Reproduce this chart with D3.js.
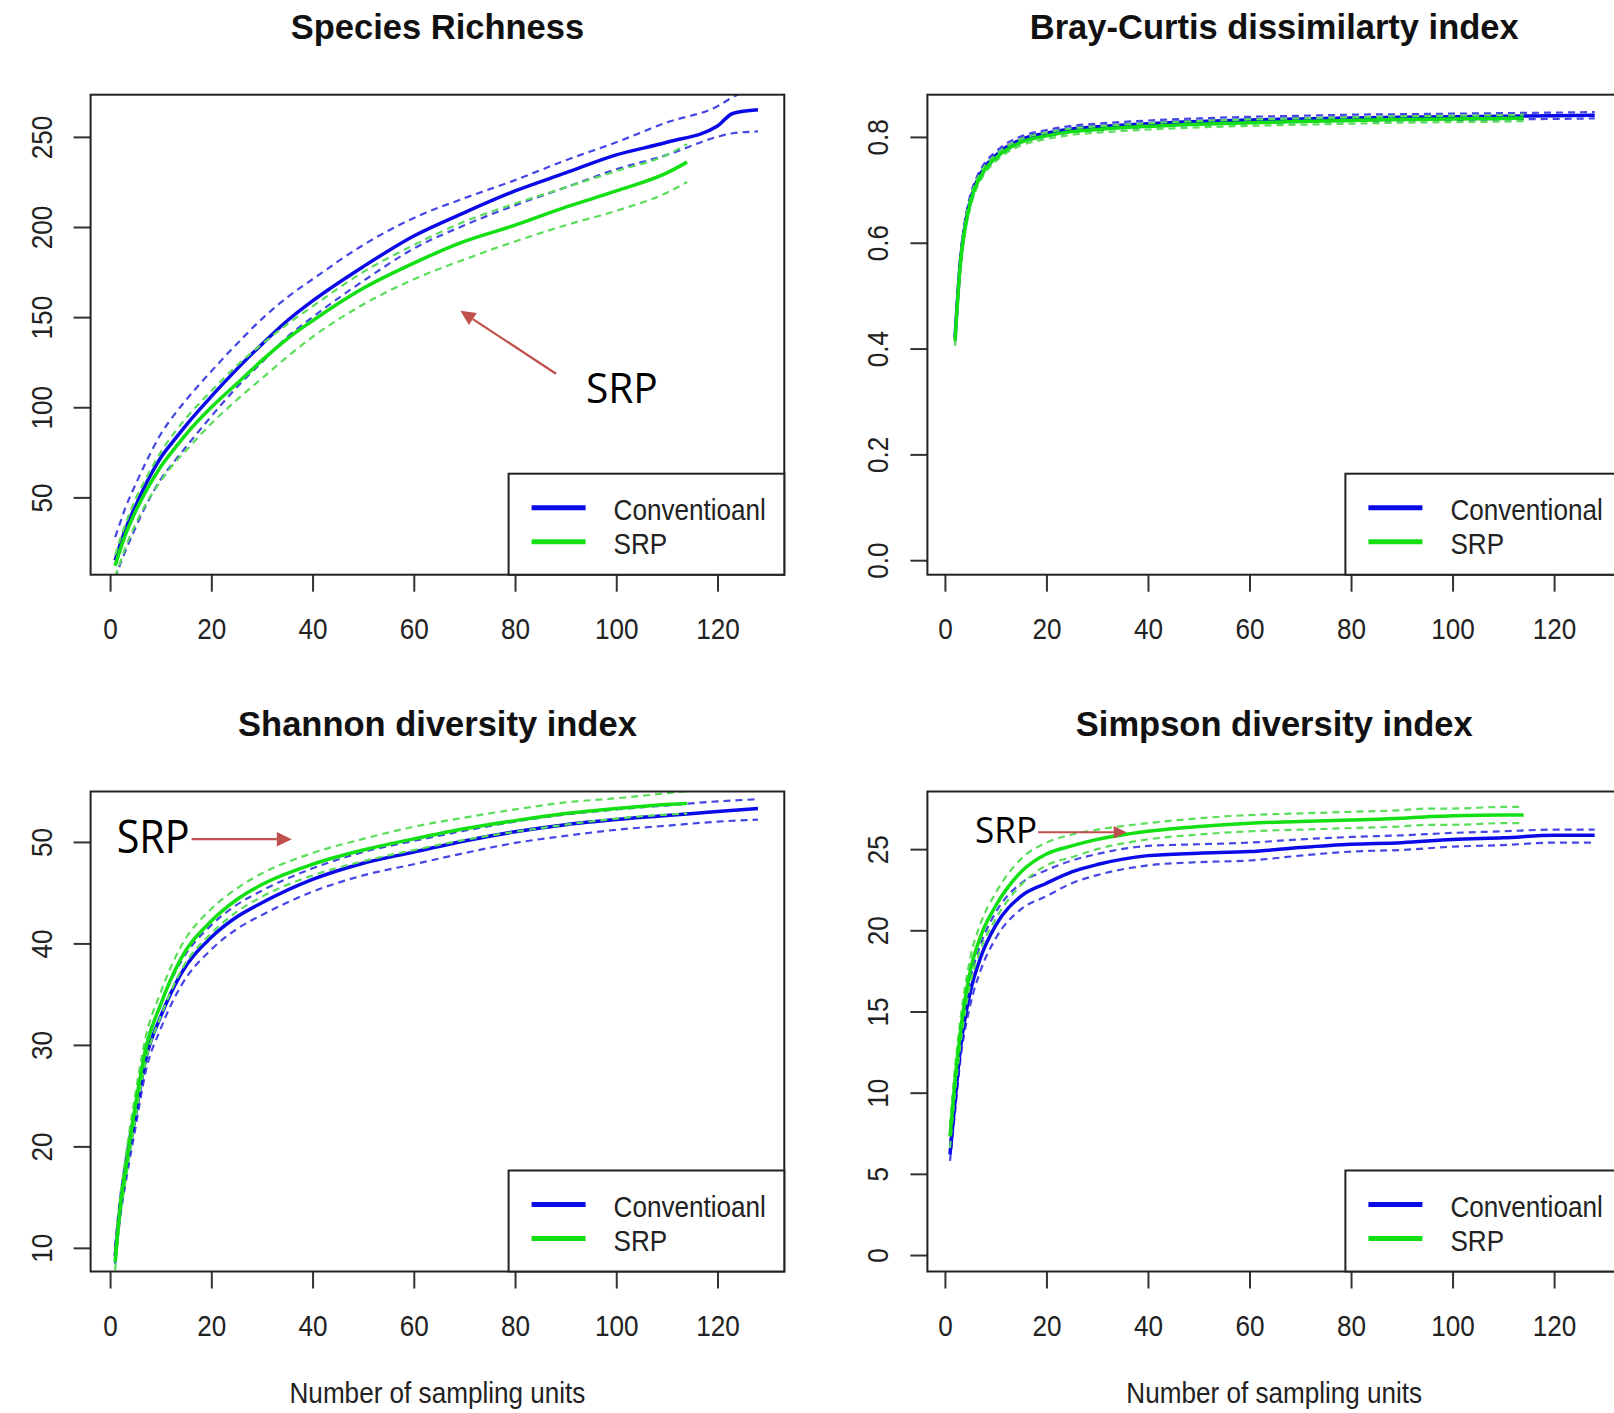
<!DOCTYPE html>
<html>
<head>
<meta charset="utf-8">
<script src="https://cdn.jsdelivr.net/npm/d3@7"></script>
<style>
  body { margin: 0; background: #fff; }
  svg { display: block; }
  text { font-family: "Liberation Sans", Arial, sans-serif; fill: #222; }
</style>
</head>
<body>
<svg id="chart" width="1614" height="1413"></svg>
<script>
// values (x = number of sampling units)

// Species richness
var richConvX    = [1, 2, 3, 5, 7, 10, 13, 15, 20, 25, 30, 35, 40, 50, 60, 70, 80, 90, 100, 110, 120, 123, 128];
var richConvMean = [15, 24, 32, 45, 57, 72, 83, 90, 106, 121, 135, 148, 159, 178, 195, 208, 220, 230, 240, 247, 256, 263, 265];
var richConvHi   = [28, 36, 44, 57, 69, 85, 97, 104, 120, 135, 149, 161, 171, 190, 205, 216, 226, 237, 247, 258, 267, 272, 277];
var richConvLo   = [5, 13, 20, 33, 45, 60, 71, 78, 95, 111, 125, 139, 150, 170, 188, 201, 212, 222, 232, 240, 250, 252, 253];
var richSrpX     = [1, 2, 3, 5, 7, 10, 13, 15, 20, 25, 30, 35, 40, 50, 60, 70, 80, 90, 100, 110, 114];
var richSrpMean  = [12, 21, 29, 42, 53, 67, 78, 85, 100, 113, 126, 138, 148, 166, 180, 192, 201, 211, 220, 230, 236];
var richSrpHi    = [18, 27, 35, 49, 60, 75, 87, 94, 109, 123, 135, 146, 156, 175, 190, 203, 213, 222, 231, 240, 246];
var richSrpLo    = [6, 14, 22, 35, 46, 59, 70, 76, 91, 104, 116, 128, 139, 157, 171, 182, 192, 201, 209, 219, 225];

// Bray-Curtis dissimilarity
var brayConvX    = [2, 3, 4, 5, 6, 7, 8, 10, 12, 15, 20, 25, 30, 40, 50, 60, 70, 80, 90, 100, 110, 120, 128];
var brayConvMean = [0.42, 0.56, 0.635, 0.68, 0.71, 0.73, 0.745, 0.765, 0.78, 0.795, 0.807, 0.815, 0.819, 0.825, 0.829, 0.832, 0.834, 0.836, 0.837, 0.838, 0.839, 0.840, 0.841];
var brayConvHi   = [0.43, 0.57, 0.645, 0.69, 0.718, 0.738, 0.753, 0.772, 0.787, 0.801, 0.813, 0.821, 0.825, 0.831, 0.835, 0.838, 0.840, 0.842, 0.843, 0.844, 0.845, 0.846, 0.847];
var brayConvLo   = [0.41, 0.55, 0.625, 0.67, 0.702, 0.722, 0.737, 0.758, 0.773, 0.789, 0.801, 0.809, 0.813, 0.819, 0.823, 0.826, 0.828, 0.830, 0.831, 0.832, 0.833, 0.834, 0.835];
var braySrpX     = [2, 3, 4, 5, 6, 7, 8, 10, 12, 15, 20, 25, 30, 40, 50, 60, 70, 80, 90, 100, 110, 114];
var braySrpMean  = [0.415, 0.555, 0.63, 0.675, 0.705, 0.725, 0.74, 0.76, 0.775, 0.79, 0.802, 0.81, 0.814, 0.82, 0.824, 0.827, 0.829, 0.831, 0.833, 0.834, 0.835, 0.836];
var braySrpHi    = [0.425, 0.565, 0.64, 0.684, 0.713, 0.732, 0.747, 0.766, 0.781, 0.796, 0.808, 0.816, 0.820, 0.826, 0.830, 0.833, 0.835, 0.837, 0.839, 0.840, 0.841, 0.842];
var braySrpLo    = [0.405, 0.545, 0.62, 0.666, 0.697, 0.718, 0.733, 0.754, 0.769, 0.784, 0.796, 0.804, 0.808, 0.814, 0.818, 0.821, 0.823, 0.825, 0.827, 0.828, 0.829, 0.830];

// Shannon diversity
var shanConvX    = [1, 2, 3, 5, 7, 10, 14, 20, 25, 30, 40, 50, 60, 70, 80, 90, 100, 110, 120, 128];
var shanConvMean = [9.2, 14, 17.3, 23, 28.5, 32.8, 37, 40.6, 42.6, 44, 46.3, 47.9, 49, 50.1, 51, 51.7, 52.2, 52.6, 53, 53.3];
var shanConvHi   = [10.2, 15, 18.5, 24.2, 29.7, 34, 38.2, 41.8, 43.8, 45.2, 47.4, 49, 50.1, 51.1, 52, 52.7, 53.2, 53.6, 54, 54.2];
var shanConvLo   = [8.4, 13, 16.2, 21.8, 27.3, 31.6, 35.8, 39.4, 41.4, 42.8, 45.1, 46.7, 47.8, 48.9, 49.9, 50.6, 51.2, 51.6, 52, 52.2];
var shanSrpX     = [1, 2, 3, 5, 7, 10, 14, 20, 25, 30, 40, 50, 60, 70, 80, 90, 100, 110, 114];
var shanSrpMean  = [8.6, 14, 17.5, 24, 29.5, 34, 38.5, 42.2, 44.3, 45.8, 47.8, 49.2, 50.3, 51.3, 52.1, 52.8, 53.3, 53.7, 53.8];
var shanSrpHi    = [9.6, 15, 18.7, 25.2, 30.7, 35.2, 39.7, 43.4, 45.4, 46.9, 48.9, 50.3, 51.5, 52.4, 53.2, 53.9, 54.3, 54.8, 55];
var shanSrpLo    = [7.8, 13, 16.4, 22.8, 28.3, 32.8, 37.3, 41, 43.1, 44.6, 46.7, 48.1, 49.2, 50.2, 51, 51.7, 52.3, 52.7, 52.8];

// Simpson diversity
var simpConvX    = [1, 2, 3, 5, 7, 10, 15, 20, 25, 30, 40, 50, 60, 70, 80, 90, 100, 110, 120, 128];
var simpConvMean = [6.2, 9.5, 12.6, 16.2, 18.3, 20.3, 22.1, 22.9, 23.6, 24.05, 24.6, 24.75, 24.85, 25.1, 25.3, 25.4, 25.6, 25.7, 25.85, 25.85];
var simpConvHi   = [6.8, 10.3, 13.4, 17, 19.1, 21.1, 22.9, 23.7, 24.3, 24.7, 25.2, 25.3, 25.4, 25.6, 25.75, 25.85, 26, 26.1, 26.2, 26.2];
var simpConvLo   = [5.8, 8.8, 11.9, 15.4, 17.5, 19.5, 21.3, 22.1, 22.9, 23.4, 24, 24.2, 24.3, 24.6, 24.85, 24.95, 25.15, 25.25, 25.4, 25.4];
var simpSrpX     = [1, 2, 3, 5, 7, 10, 15, 20, 25, 30, 40, 50, 60, 70, 80, 90, 95, 100, 110, 114];
var simpSrpMean  = [7.3, 10.8, 13.6, 17.5, 19.6, 21.5, 23.6, 24.7, 25.2, 25.6, 26.1, 26.4, 26.6, 26.7, 26.8, 26.9, 27.0, 27.05, 27.1, 27.1];
var simpSrpHi    = [8, 11.6, 14.4, 18.3, 20.4, 22.3, 24.4, 25.4, 25.9, 26.2, 26.6, 26.9, 27.1, 27.2, 27.3, 27.4, 27.5, 27.5, 27.6, 27.6];
var simpSrpLo    = [6.6, 10, 12.8, 16.7, 18.8, 20.7, 22.8, 24, 24.5, 25, 25.6, 25.9, 26.1, 26.2, 26.3, 26.4, 26.5, 26.5, 26.6, 26.6];

// ticks and labels
var xTicks = [0, 20, 40, 60, 80, 100, 120];
var richTicks = [50, 100, 150, 200, 250];
var brayTicks = [0, 0.2, 0.4, 0.6, 0.8];
var shanTicks = [10, 20, 30, 40, 50];
var simpTicks = [0, 5, 10, 15, 20, 25];
var titles = ["Species Richness", "Bray-Curtis dissimilarty index", "Shannon diversity index", "Simpson diversity index"];
var legendRich = ["Conventioanl", "SRP"];
var legendBray = ["Conventional", "SRP"];
var xLabel = "Number of sampling units";

var blue = "#0a0ae8", blueDash = "#4646e6";
var green = "#12e012", greenDash = "#5ade5a";
var arrowRed = "#c0504d";

var boxW = 693.7, boxH = 480;
var squeeze = "scale(0.87,1)"; // the axis lettering is narrower than plain Arial

var svg = d3.select("#chart");

var defs = svg.append("defs");

function zip(xs, ys) {
  return xs.map(function (v, i) { return [v, ys[i]]; });
}

function drawPanel(p) {
  var x = d3.scaleLinear().domain(p.xDomain).range([p.left, p.left + boxW]);
  var y = d3.scaleLinear().domain(p.yDomain).range([p.top + boxH, p.top]);
  var bottom = p.top + boxH;

  defs.append("clipPath").attr("id", "clip-" + p.id)
    .append("rect")
    .attr("x", p.left).attr("y", p.top)
    .attr("width", boxW).attr("height", boxH);

  var line = d3.line()
    .x(function (d) { return x(d[0]); })
    .y(function (d) { return y(d[1]); })
    .curve(d3.curveMonotoneX);

  var plot = svg.append("g").attr("clip-path", "url(#clip-" + p.id + ")");

  p.series.forEach(function (s) {
    [s.hi, s.lo].forEach(function (band) {
      plot.append("path")
        .attr("d", line(zip(s.x, band)))
        .attr("fill", "none")
        .attr("stroke", s.dash)
        .attr("stroke-width", 2.2)
        .attr("stroke-dasharray", "7,5");
    });
    plot.append("path")
      .attr("d", line(zip(s.x, s.mean)))
      .attr("fill", "none")
      .attr("stroke", s.color)
      .attr("stroke-width", 3.5)
      .attr("stroke-linejoin", "round");
  });

  // x axis
  var xAxis = svg.append("g")
    .attr("transform", "translate(0," + bottom + ")")
    .call(d3.axisBottom(x).tickValues(xTicks).tickSize(17).tickSizeOuter(0));
  xAxis.select(".domain").remove();
  xAxis.selectAll(".tick line").attr("stroke", "#333").attr("stroke-width", 2);
  xAxis.selectAll(".tick text")
    .attr("y", 64.5).attr("dy", 0)
    .attr("transform", squeeze)
    .style("font-size", "30px").style("fill", "#222");
  xAxis.attr("font-family", null);

  // y axis, labels turned like R does
  var yAxis = svg.append("g")
    .attr("transform", "translate(" + p.left + ",0)")
    .call(d3.axisLeft(y).tickValues(p.ticks).tickFormat(p.fmt).tickSize(17).tickSizeOuter(0));
  yAxis.select(".domain").remove();
  yAxis.selectAll(".tick line").attr("stroke", "#333").attr("stroke-width", 2);
  yAxis.selectAll(".tick text")
    .attr("x", 0).attr("y", 0).attr("dy", 0)
    .attr("text-anchor", "middle")
    .attr("transform", "translate(-39,0) rotate(-90) " + squeeze)
    .style("font-size", "30px").style("fill", "#222");
  yAxis.attr("font-family", null);

  // frame
  svg.append("rect")
    .attr("x", p.left).attr("y", p.top)
    .attr("width", boxW).attr("height", boxH)
    .attr("fill", "none").attr("stroke", "#222").attr("stroke-width", 2);

  // legend
  var lx = p.left + 418, ly = bottom - 101;
  svg.append("rect")
    .attr("x", lx).attr("y", ly)
    .attr("width", p.left + boxW - lx).attr("height", 101)
    .attr("fill", "#fff").attr("stroke", "#222").attr("stroke-width", 2);
  var legColors = [blue, green];
  p.legend.forEach(function (name, i) {
    var yy = ly + 34 + i * 34;
    svg.append("line")
      .attr("x1", lx + 23).attr("x2", lx + 77)
      .attr("y1", yy).attr("y2", yy)
      .attr("stroke", legColors[i]).attr("stroke-width", 5);
    svg.append("text")
      .attr("transform", "translate(" + (lx + 105) + "," + (yy + 12) + ") " + squeeze)
      .style("font-size", "30px")
      .text(name);
  });

  // title
  svg.append("text")
    .attr("x", p.left + boxW / 2).attr("y", p.top - 56)
    .attr("text-anchor", "middle")
    .style("font-size", "34.5px").style("font-weight", "bold").style("fill", "#111")
    .text(p.title);

  if (p.xLabel) {
    svg.append("text")
      .attr("transform", "translate(" + (p.left + boxW / 2) + "," + (bottom + 131) + ") " + squeeze)
      .attr("text-anchor", "middle")
      .style("font-size", "30px")
      .text(p.xLabel);
  }

  // hand-drawn "SRP" callout
  if (p.note) {
    var n = p.note;
    svg.append("text")
      .attr("x", x(n.tx)).attr("y", y(n.ty))
      .attr("textLength", n.len).attr("lengthAdjust", "spacingAndGlyphs")
      .style("font-family", "'Open Sans', 'Noto Sans', sans-serif")
      .style("font-size", n.size + "px").style("fill", "#000")
      .text("SRP");
    var x1 = x(n.x1), y1 = y(n.y1), x2 = x(n.x2), y2 = y(n.y2);
    var ang = Math.atan2(y2 - y1, x2 - x1);
    var hl = n.head, hw = n.head * 0.48;
    var bx = x2 - hl * Math.cos(ang), by = y2 - hl * Math.sin(ang);
    svg.append("line")
      .attr("x1", x1).attr("y1", y1).attr("x2", bx).attr("y2", by)
      .attr("stroke", arrowRed).attr("stroke-width", 2.2);
    svg.append("path")
      .attr("d", "M" + x2 + "," + y2 +
        "L" + (bx + hw * Math.sin(ang)) + "," + (by - hw * Math.cos(ang)) +
        "L" + (bx - hw * Math.sin(ang)) + "," + (by + hw * Math.cos(ang)) + "Z")
      .attr("fill", arrowRed);
  }
}

var panels = [
  {
    id: "rich", left: 90.6, top: 94.7,
    xDomain: [-3.85, 133.2], yDomain: [7.1, 273.4],
    ticks: richTicks, fmt: d3.format("d"),
    title: titles[0], legend: legendRich,
    series: [
      { x: richConvX, mean: richConvMean, hi: richConvHi, lo: richConvLo, color: blue, dash: blueDash },
      { x: richSrpX, mean: richSrpMean, hi: richSrpHi, lo: richSrpLo, color: green, dash: greenDash }
    ],
    note: { tx: 94, ty: 102.6, len: 72, size: 42, x1: 88.1, y1: 118.6, x2: 69.2, y2: 153.5, head: 15 }
  },
  {
    id: "bray", left: 927.4, top: 94.7,
    xDomain: [-3.45, 133.2], yDomain: [-0.0274, 0.8798],
    ticks: brayTicks, fmt: d3.format(".1f"),
    title: titles[1], legend: legendBray,
    series: [
      { x: brayConvX, mean: brayConvMean, hi: brayConvHi, lo: brayConvLo, color: blue, dash: blueDash },
      { x: braySrpX, mean: braySrpMean, hi: braySrpHi, lo: braySrpLo, color: green, dash: greenDash }
    ]
  },
  {
    id: "shan", left: 90.6, top: 791.5,
    xDomain: [-3.85, 133.2], yDomain: [7.67, 54.97],
    ticks: shanTicks, fmt: d3.format("d"),
    title: titles[2], legend: legendRich, xLabel: xLabel,
    series: [
      { x: shanConvX, mean: shanConvMean, hi: shanConvHi, lo: shanConvLo, color: blue, dash: blueDash },
      { x: shanSrpX, mean: shanSrpMean, hi: shanSrpHi, lo: shanSrpLo, color: green, dash: greenDash }
    ],
    note: { tx: 1.3, ty: 48.89, len: 73, size: 45, x1: 16.1, y1: 50.27, x2: 35.9, y2: 50.27, head: 15 }
  },
  {
    id: "simp", left: 927.4, top: 791.5,
    xDomain: [-3.45, 133.2], yDomain: [-1.015, 28.55],
    ticks: simpTicks, fmt: d3.format("d"),
    title: titles[3], legend: legendRich, xLabel: xLabel,
    series: [
      { x: simpConvX, mean: simpConvMean, hi: simpConvHi, lo: simpConvLo, color: blue, dash: blueDash },
      { x: simpSrpX, mean: simpSrpMean, hi: simpSrpHi, lo: simpSrpLo, color: green, dash: greenDash }
    ],
    note: { tx: 5.93, ty: 25.36, len: 62, size: 36, x1: 18.34, y1: 26.04, x2: 35.8, y2: 26.04, head: 13 }
  }
];

panels.forEach(drawPanel);
</script>
</body>
</html>
